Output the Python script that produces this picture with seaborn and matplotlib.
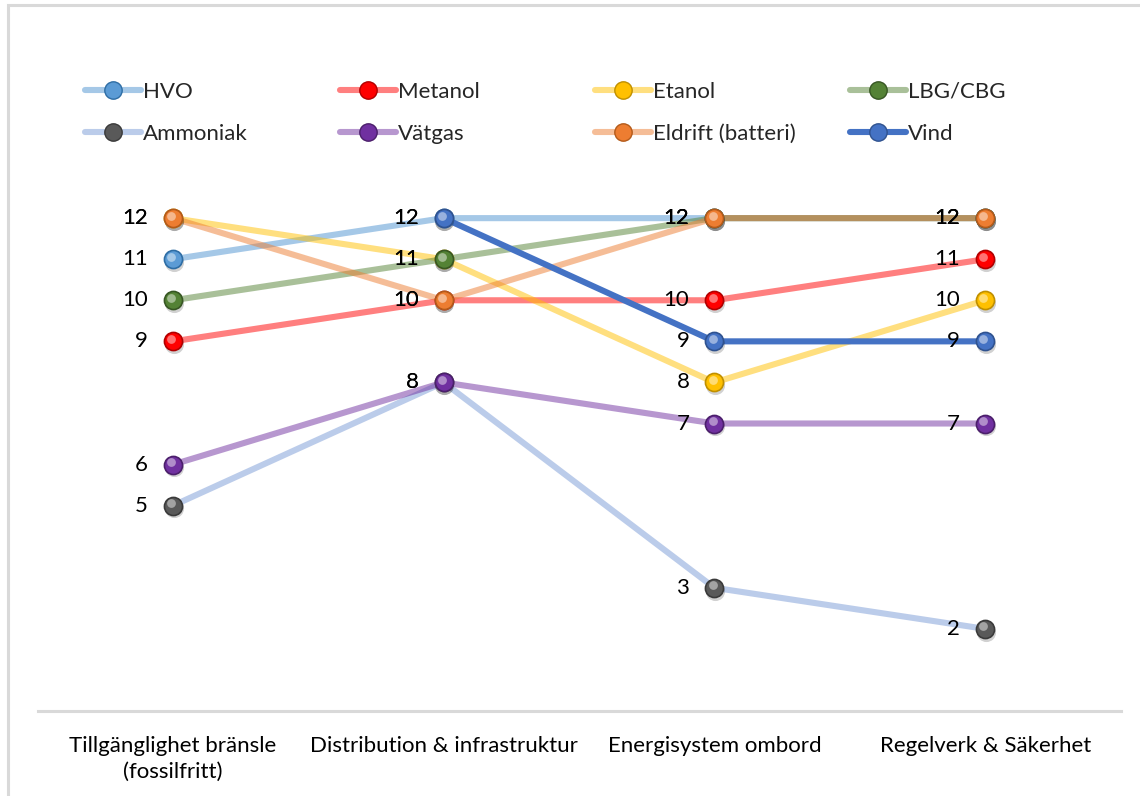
import numpy as np
import pandas as pd
import matplotlib
matplotlib.use("Agg")
import matplotlib.pyplot as plt
import matplotlib.transforms as mtransforms
from matplotlib.lines import Line2D
from matplotlib.patches import Rectangle
import seaborn as sns

# --- data -------------------------------------------------------------------
categories = ["Tillgänglighet bränsle\n(fossilfritt)", "Distribution & infrastruktur",
              "Energisystem ombord", "Regelverk & Säkerhet"]

series_names = ["HVO", "Metanol", "Etanol", "LBG/CBG",
                "Ammoniak", "Vätgas", "Eldrift (batteri)", "Vind"]

hvo = [11, 12, 12, 12]
metanol = [9, 10, 10, 11]
etanol = [12, 11, 8, 10]
lbg_cbg = [10, 11, 12, 12]
ammoniak = [5, 8, 3, 2]
vatgas = [6, 8, 7, 7]
eldrift = [12, 10, 12, 12]
vind = [np.nan, 12, 9, 9]

values = [hvo, metanol, etanol, lbg_cbg, ammoniak, vatgas, eldrift, vind]

# line colour, line alpha, marker colour, marker edge
line_colors = ["#5B9BD5", "#FF0000", "#FFC000", "#548235",
               "#8FAADC", "#7030A0", "#ED7D31", "#4472C4"]
line_alphas = [0.55, 0.5, 0.5, 0.5, 0.6, 0.5, 0.5, 1.0]
marker_colors = ["#5B9BD5", "#FF0000", "#FFC000", "#548235",
                 "#595959", "#7030A0", "#ED7D31", "#4472C4"]
marker_edges = ["#2E6DA4", "#B00000", "#BF8F00", "#375623",
                "#3A3A3A", "#4B1F6B", "#B35A1A", "#2F528F"]

# --- figure -----------------------------------------------------------------
sns.set_theme(style="white")
plt.rcParams["font.family"] = ["Lato", "DejaVu Sans"]

W, H = 1140, 796
FS = 16
fig = plt.figure(figsize=(W / 100, H / 100), dpi=100)
ax = fig.add_axes([37.5 / W, 1 - 711 / H, (1120.5 - 37.5) / W, (711 - 136) / H])

# chart border
fig.patches.append(Rectangle((8 / W, -0.1), 1.2, 1 - 5 / H + 0.1, transform=fig.transFigure,
                             fill=False, edgecolor="#D9D9D9", lw=2.2, zorder=0))

x = np.arange(len(categories))
dpi_tr = fig.dpi_scale_trans

for i, (name, vals) in enumerate(zip(series_names, values)):
    df = pd.DataFrame({"x": x, "y": vals}).dropna()
    z = 2 + i * 0.1
    sns.lineplot(data=df, x="x", y="y", ax=ax, color=line_colors[i], alpha=line_alphas[i],
                 lw=4.4, solid_capstyle="round", zorder=z, legend=False)
    # soft shadow under each marker
    sh = ax.transData + mtransforms.ScaledTranslation(0.5 / 72, -2.0 / 72, dpi_tr)
    ax.scatter(df["x"], df["y"], s=190, color="#000000", alpha=0.18, lw=0,
               transform=sh, zorder=z + 0.5)
    sns.scatterplot(data=df, x="x", y="y", ax=ax, s=170, color=marker_colors[i],
                    edgecolor=marker_edges[i], linewidth=1.2, zorder=z + 5, legend=False)
    # glossy highlight
    hl = ax.transData + mtransforms.ScaledTranslation(-1.3 / 72, 1.8 / 72, dpi_tr)
    ax.scatter(df["x"], df["y"], s=40, color="white", alpha=0.45, lw=0,
               transform=hl, zorder=z + 5.05)
    for xi, yi in zip(df["x"], df["y"]):
        ax.annotate(f"{int(yi)}", (xi, yi), xytext=(-18, 0), textcoords="offset points",
                    ha="right", va="center", fontsize=FS, color="black", zorder=20)

ax.set_xlim(-0.5, 3.5)
ax.set_ylim(0, 14)
ax.set_yticks([])
ax.set_xticks(x)
ax.set_xticklabels(categories, fontsize=FS, color="black", linespacing=1.35)
ax.tick_params(axis="x", length=0, pad=18)
ax.set_xlabel("")
ax.set_ylabel("")
for side in ["top", "left", "right"]:
    ax.spines[side].set_visible(False)
ax.spines["bottom"].set_color("#D9D9D9")
ax.spines["bottom"].set_linewidth(2.2)
ax.patch.set_alpha(0)

# --- legend: four columns of two entries each --------------------------------
def line_rgba(i):
    rgb = matplotlib.colors.to_rgb(line_colors[i])
    return (*rgb, line_alphas[i])

handles = [Line2D([0], [0], color=line_rgba(i), lw=4.4, solid_capstyle="round",
                  marker="o", markersize=12.5, markerfacecolor=marker_colors[i],
                  markeredgecolor=marker_edges[i], markeredgewidth=1.0)
           for i in range(len(series_names))]

col_x = [85, 340, 595, 850]
for c in range(4):
    idx = [c, c + 4]
    fig.legend([handles[j] for j in idx], [series_names[j] for j in idx],
               loc="upper left", bbox_to_anchor=(col_x[c] / W, 1 - 82 / H),
               frameon=False, fontsize=FS, handlelength=2.5, handletextpad=0.12,
               labelspacing=1.0, borderaxespad=0, borderpad=0, numpoints=1)

fig.savefig("out.png", dpi=100)
